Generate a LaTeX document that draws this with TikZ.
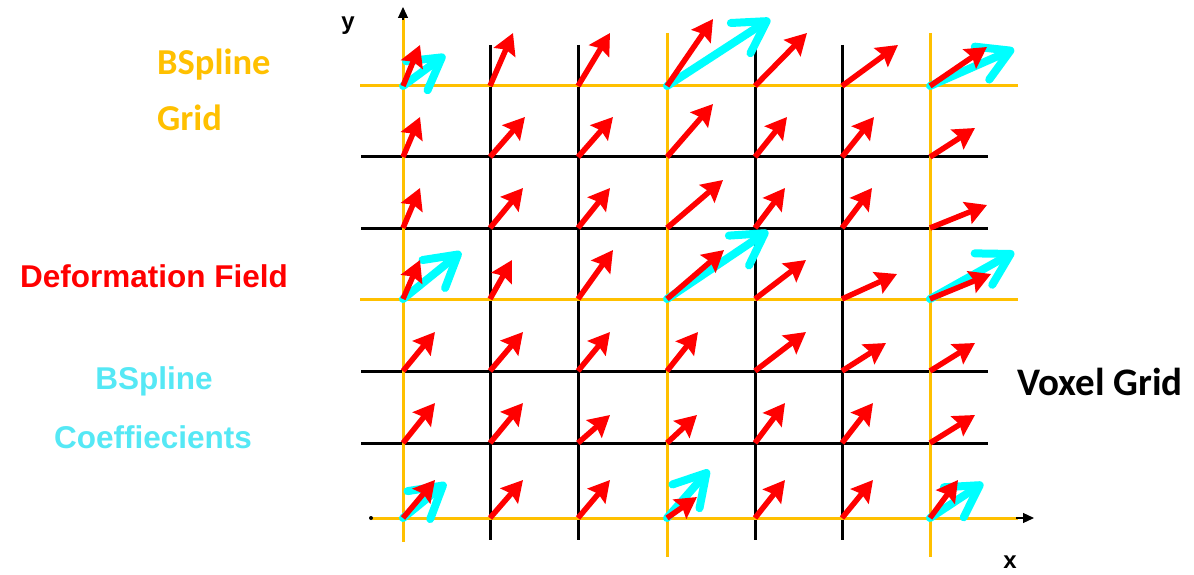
\documentclass[tikz,border=0pt]{standalone}
\usepackage{fontspec}
\setmainfont{Liberation Sans}
\newfontfamily\calibrifont{Carlito}
\usetikzlibrary{arrows.meta,calc}
\definecolor{bsorange}{HTML}{FFC000}
\definecolor{bscyan}{HTML}{00FFFF}
\definecolor{bscyantext}{HTML}{55E8F5}
\definecolor{defred}{HTML}{FF0000}
\begin{document}
\begin{tikzpicture}[x=1pt,y=-1pt,
  blackline/.style={line width=3pt,black},
  orangeline/.style={line width=3pt,bsorange},
  axistip/.style={line width=1.2pt,black,-{Triangle[length=11pt 0,width=10pt 0]}},
  redarrow/.style={line width=5.5pt,defred,-{Stealth[length=21pt 0,width=23pt 0,inset=3pt 0]}},
  cyanarrow/.style={line width=8pt,bscyan,line cap=round,-{Straight Barb[length=31pt 0,width=36pt 0,round,line width=8pt 0]}},
  lbl/.style={inner sep=0pt,font=\bfseries\fontsize{31.5}{36}\selectfont},
  callbl/.style={inner sep=0pt,font=\calibrifont\bfseries\fontsize{36.5}{42}\selectfont}]
\useasboundingbox[fill=white] (0,0) rectangle (1194,575);
% grid points
\foreach \c/\x in {0/403,1/490,2/578,3/667,4/755,5/842,6/930}
  \foreach \r/\y in {0/86,1/157,2/228,3/299,4/371,5/443,6/518}
    \coordinate (g-\c-\r) at (\x,\y);
% voxel grid (black)
\foreach \y in {86,157,228,299,371,443}
  \draw[blackline] (361,\y) -- (988,\y);
\foreach \x in {490,578,755,842}
  \draw[blackline] (\x,45) -- (\x,540);
% bspline grid (orange)
\draw[orangeline] (360,86) -- (1018,86);
\draw[orangeline] (360,299) -- (1018,299);
\draw[orangeline] (372,518) -- (1018,518);
\draw[orangeline] (403,18) -- (403,542);
\draw[orangeline] (667,33) -- (667,557);
\draw[orangeline] (930,33) -- (930,557);
% axes
\coordinate (ybase) at (403,20);
\coordinate (ytip) at (403,7);
\coordinate (xbase) at (1016,518);
\coordinate (xtip) at (1034,518);
\draw[axistip] (ybase) -- (ytip);
\draw[axistip] (xbase) -- (xtip);
\fill[black] (371,518) circle (2pt);
\node[inner sep=0pt,font=\bfseries\fontsize{24}{28}\selectfont] (ylabel) at (348,26) {y};
\node[inner sep=0pt,font=\bfseries\fontsize{24}{28}\selectfont] (xlabel) at (1010,562) {x};
% cyan coefficients
\foreach \c/\r/\tx/\ty in {0/0/445/55,3/0/770/19,6/0/1014/49,0/3/461/252,3/3/768/231,6/3/1014/252,0/6/446/483,3/6/709/470,6/6/983/483}{
  \coordinate (ct-\c-\r) at (\tx,\ty);
  \draw[cyanarrow] (g-\c-\r) -- (ct-\c-\r);
}
% red deformation field
\foreach \c/\r/\dx/\dy in {
 0/0/17/-41,1/0/23/-53,2/0/32/-53,3/0/46/-67,4/0/52/-53,5/0/56/-41,6/0/57/-39,
 0/1/17/-40,1/1/35/-40,2/1/35/-40,3/1/46/-53,4/1/32/-40,5/1/32/-40,6/1/45/-29,
 0/2/17/-40,1/2/33/-40,2/2/32/-40,3/2/56/-48,4/2/30/-40,5/2/30/-40,6/2/57/-23,
 0/3/17/-39,1/3/22/-39,2/3/35/-49,3/3/57/-49,4/3/51/-39,5/3/55/-25,6/3/61/-25,
 0/4/32/-39,1/4/33/-39,2/4/32/-39,3/4/31/-39,4/4/51/-39,5/4/44/-28,6/4/45/-28,
 0/5/32/-40,1/5/33/-40,2/5/32/-28,3/5/30/-28,4/5/30/-40,5/5/31/-40,6/5/45/-28,
 0/6/32/-38,1/6/33/-38,2/6/32/-38,3/6/30/-21,4/6/30/-38,5/6/31/-38,6/6/28/-38}{
  \coordinate (rt-\c-\r) at ($(g-\c-\r)+(\dx,\dy)$);
  \draw[redarrow] (g-\c-\r) -- (rt-\c-\r);
}
% labels
\node[callbl,text=bsorange,anchor=west] (bsgrid1) at (157,65) {BSpline};
\node[callbl,text=bsorange,anchor=west] (bsgrid2) at (157,118) {Grid};
\node[lbl,text=defred] (deffield) at (154,276) {Deformation Field};
\node[lbl,text=bscyantext] (bscoef1) at (154,381) {BSpline};
\node[lbl,text=bscyantext] (bscoef2) at (153,437) {Coeffiecients};
\node[callbl,text=black,anchor=west,font=\calibrifont\bfseries\fontsize{39}{44}\selectfont] (voxel) at (1017,382) {Voxel Grid};
\end{tikzpicture}
\end{document}
